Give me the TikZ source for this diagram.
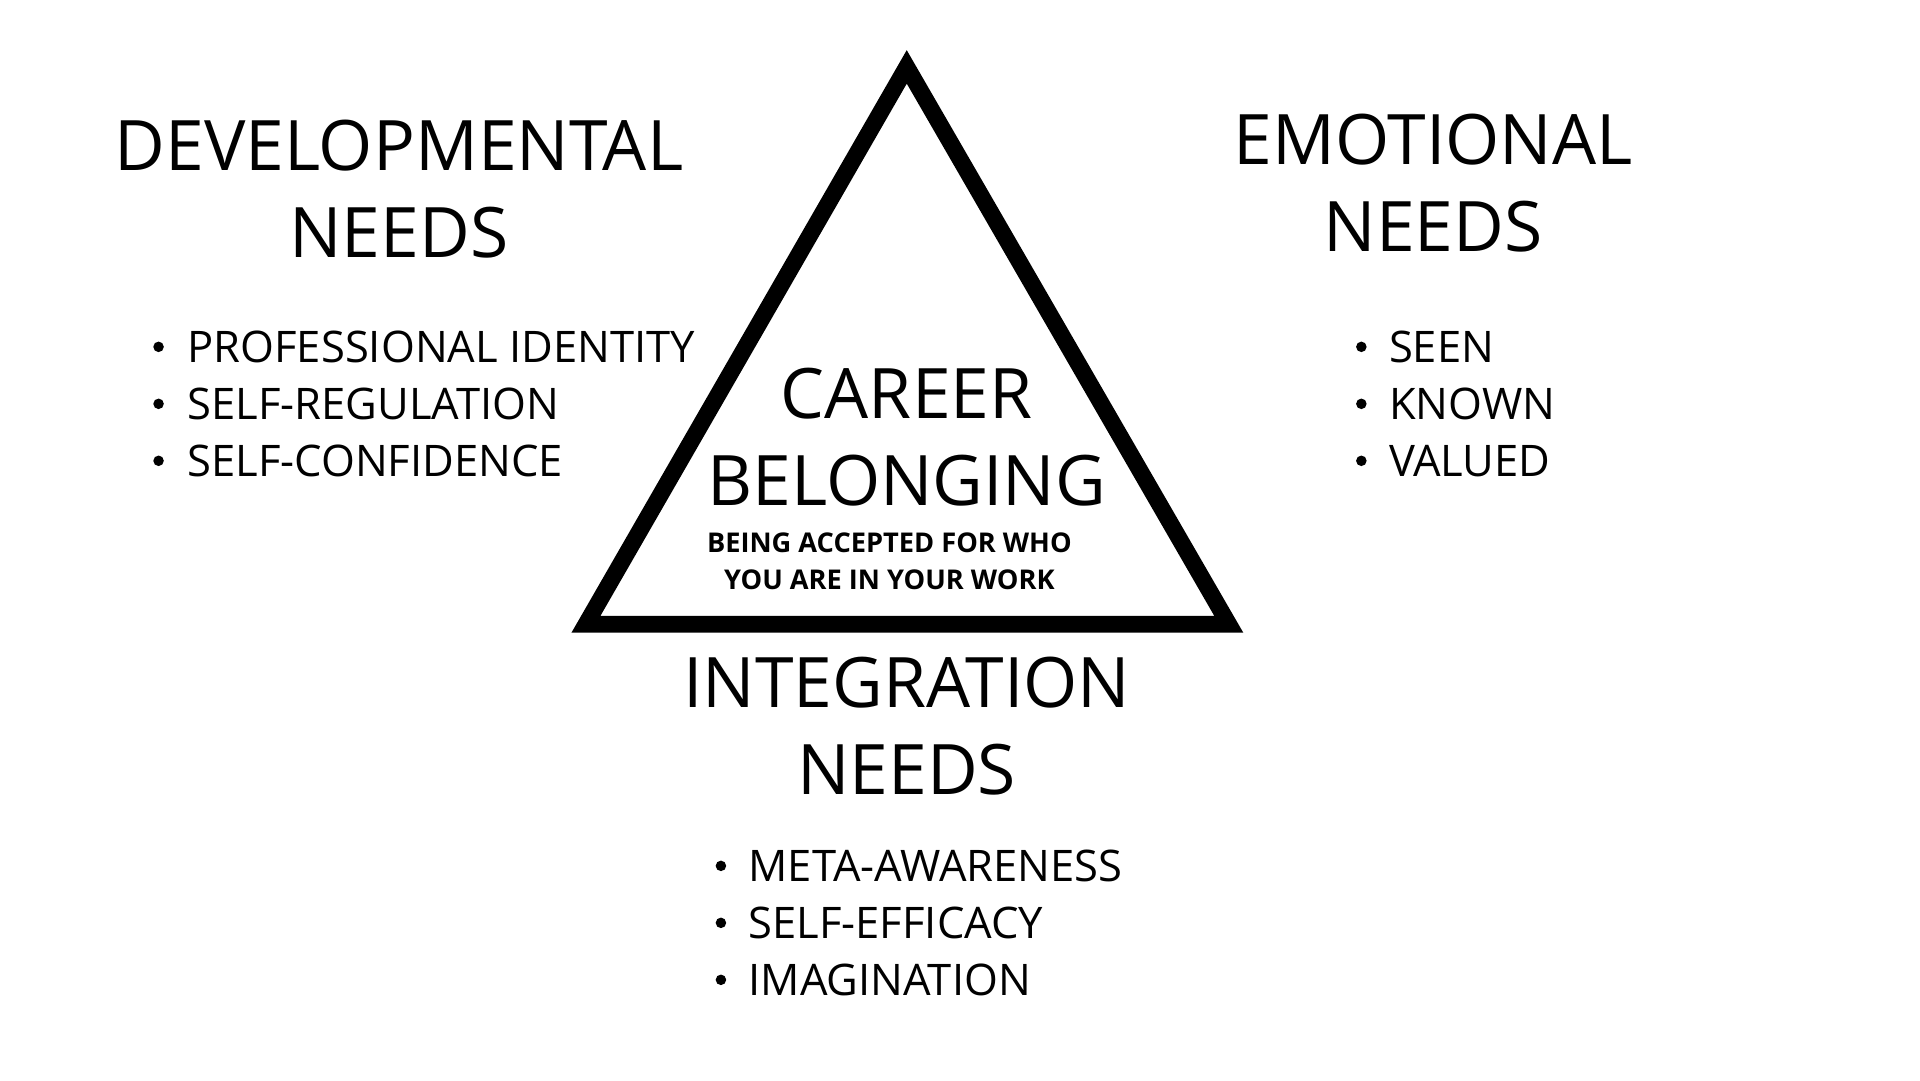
\documentclass[tikz,border=0pt]{standalone}
\usepackage{fontspec}
\setmainfont{Open Sans}
\begin{document}
\begin{tikzpicture}[x=0.02cm,y=-0.02cm,
 title/.style={align=center,font=\fontsize{32}{40}\selectfont,inner sep=0},
 item/.style={anchor=west,font=\fontsize{20}{24}\selectfont\addfontfeature{FakeBold=0},inner sep=0},
 dot/.style={circle,fill=black,inner sep=0,minimum size=0.17cm}]
\useasboundingbox (0,0) rectangle (1550,872);
\draw[line width=0.27cm,line join=miter] (732,54) coordinate (apex) -- (473,504) coordinate (bl) -- (992,504) coordinate (br) -- cycle;
\node[title] (dev) at (322,153) {DEVELOPMENTAL\\NEEDS};
\node[title] (emo) at (1157,148) {EMOTIONAL\\NEEDS};
\node[title] (car) at (732,353) {CAREER\\BELONGING};
\node[align=center,font=\bfseries\fontsize{12.5}{17}\selectfont,inner sep=0] (sub) at (718,453) {BEING ACCEPTED FOR WHO\\YOU ARE IN YOUR WORK};
\node[title] (int) at (732,586) {INTEGRATION\\NEEDS};
\foreach \t [count=\i] in {PROFESSIONAL IDENTITY,SELF-REGULATION,SELF-CONFIDENCE}{
 \node[dot] (dd\i) at (128,280+46*\i-46) {};
 \node[item] (dt\i) at (151,280+46*\i-46) {\t};}
\foreach \t [count=\i] in {SEEN,KNOWN,VALUED}{
 \node[dot] (ed\i) at (1099,280+46*\i-46) {};
 \node[item] (et\i) at (1121,280+46*\i-46) {\t};}
\foreach \t [count=\i] in {META-AWARENESS,SELF-EFFICACY,IMAGINATION}{
 \node[dot] (id\i) at (582,699+46*\i-46) {};
 \node[item] (it\i) at (604,699+46*\i-46) {\t};}
\end{tikzpicture}
\end{document}
